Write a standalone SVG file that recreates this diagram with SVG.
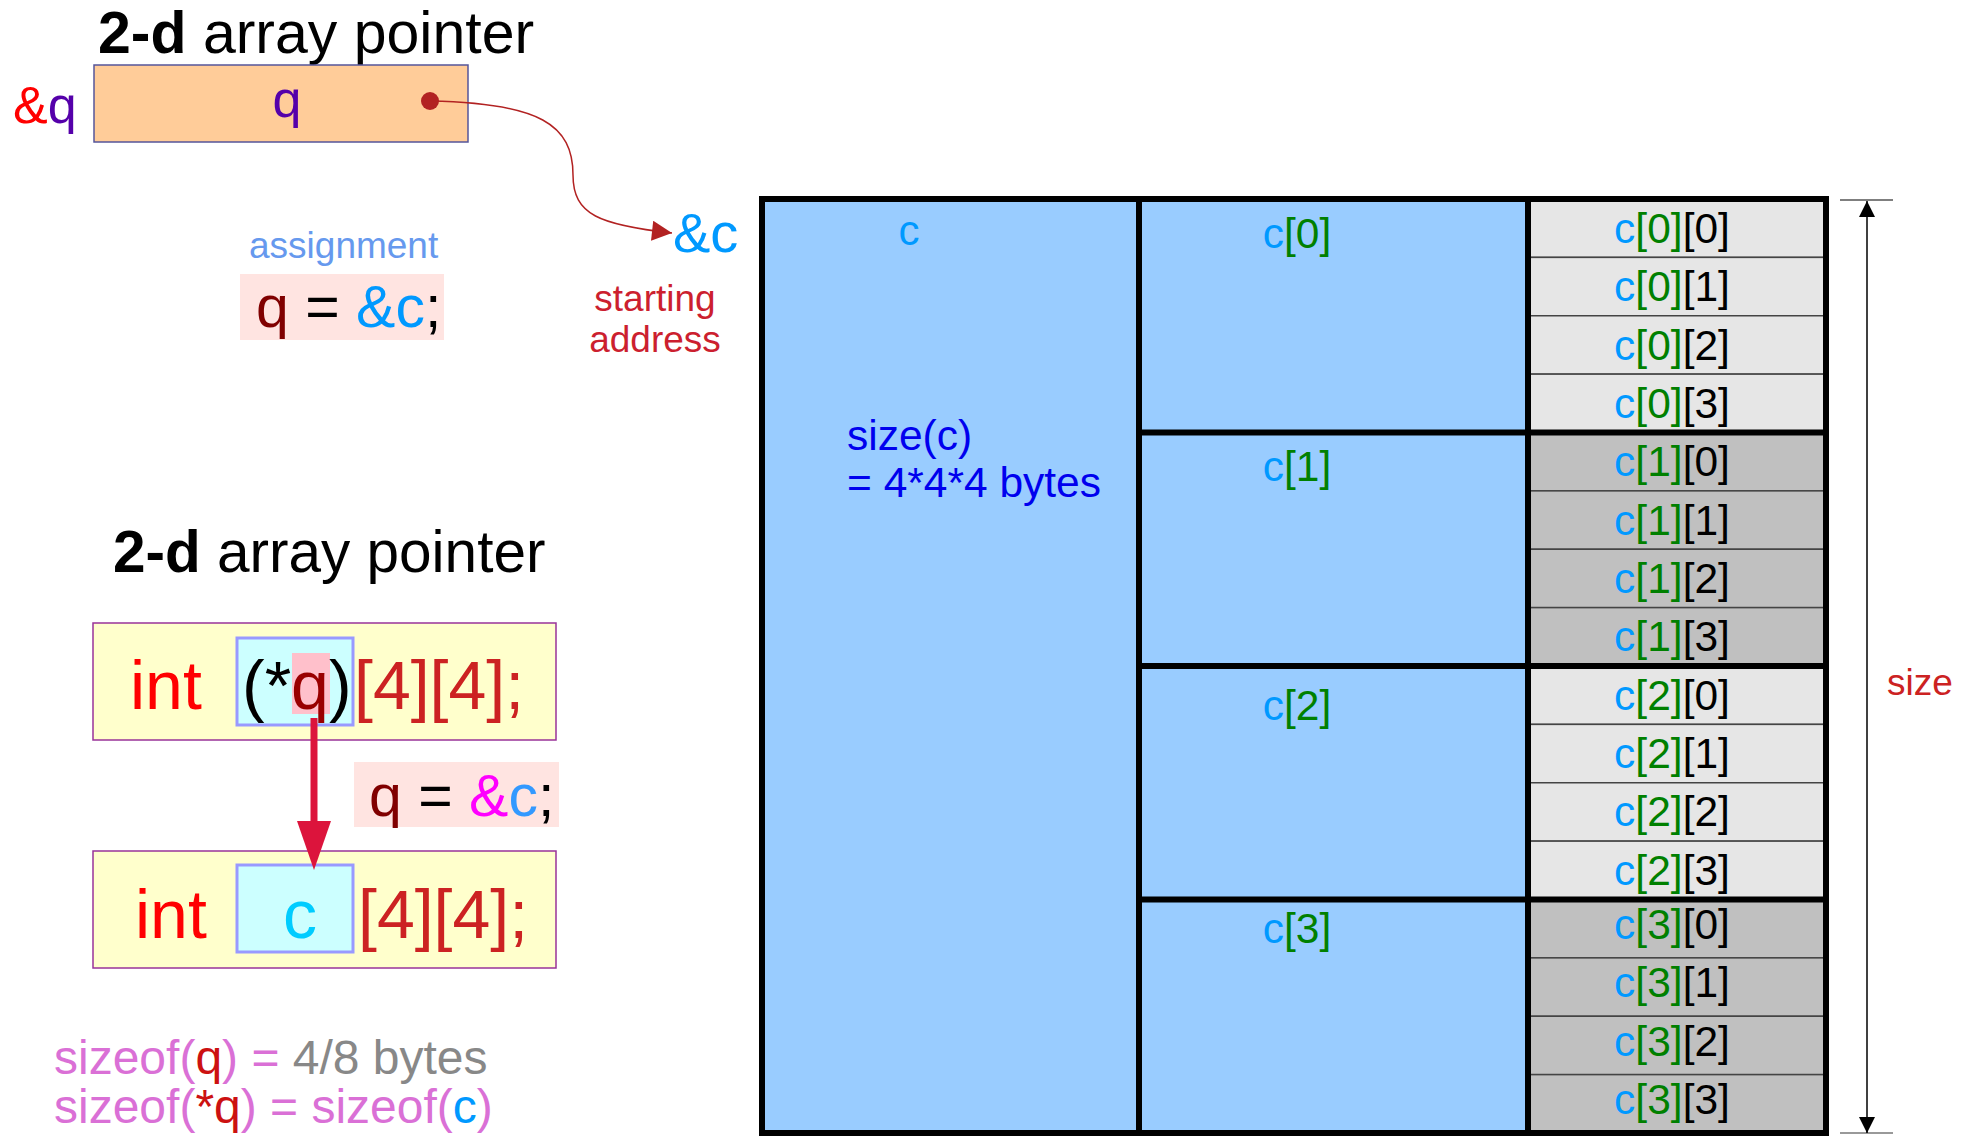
<svg xmlns="http://www.w3.org/2000/svg" width="1974" height="1137" viewBox="0 0 1974 1137">
<style>
text{font-family:"Liberation Sans",Arial,sans-serif}
.blue{fill:#0099ff}.grn{fill:#008000}.blk{fill:#000}
.cell{font-size:42.5px;text-anchor:middle}
.l1{fill:#e6e6e6;stroke:#444;stroke-width:1.5}
.l2{fill:#c0c0c0;stroke:#444;stroke-width:1.5}
.yb{fill:#ffffcc;stroke:#993399;stroke-width:1.5}
.cb{fill:#ccffff;stroke:#9999ff;stroke-width:3}
.pk{fill:#ffe4e1}
.code{font-size:68px}
</style>
<defs>
<marker id="ah" viewBox="0 0 10 10" refX="10" refY="5" markerWidth="30" markerHeight="20" markerUnits="userSpaceOnUse" orient="auto"><path d="M0,0 L10,5 L0,10 z" fill="#b22222"/></marker>
<marker id="sz" viewBox="0 0 10 10" refX="10" refY="5" markerWidth="22" markerHeight="16" markerUnits="userSpaceOnUse" orient="auto"><path d="M0,0 L10,5 L0,10 z" fill="#000"/></marker>
</defs>
<rect width="1974" height="1137" fill="#fff"/>

<g id="title1"><text x="98" y="53" font-size="59"><tspan font-weight="bold">2-d</tspan> array pointer</text></g>

<g id="qvar">
<text x="13" y="123" font-size="52"><tspan fill="#ff0000">&amp;</tspan><tspan fill="#5500aa">q</tspan></text>
<rect x="94" y="65" width="374" height="77" fill="#ffcc99" stroke="#55559a" stroke-width="1.5"/>
<text x="287" y="117" font-size="52" fill="#5500aa" text-anchor="middle">q</text>
<circle cx="430" cy="101" r="9" fill="#b22222"/>
</g>

<g id="assign1">
<text x="249" y="258" font-size="37" fill="#6699ee">assignment</text>
<rect x="240" y="274" width="204" height="66" class="pk"/>
<text x="256" y="327" font-size="59"><tspan fill="#800000">q</tspan> = <tspan fill="#0099ff">&amp;c</tspan>;</text>
</g>

<g id="addr">
<text x="673" y="252" font-size="56" fill="#0099ff">&amp;c</text>
<text x="655" y="311" font-size="37" fill="#cc1f2f" text-anchor="middle">starting</text>
<text x="655" y="352" font-size="37" fill="#cc1f2f" text-anchor="middle">address</text>
</g>

<g id="title2"><text x="113" y="572" font-size="58.5"><tspan font-weight="bold">2-d</tspan> array pointer</text></g>

<g id="decl1">
<rect x="93" y="623" width="463" height="117" class="yb"/>
<text x="130" y="709" class="code" fill="#ff0000">int</text>
<rect x="237" y="638" width="116" height="87" class="cb"/>
<rect x="292" y="653" width="38" height="61" fill="#ffc0cb"/>
<text x="242" y="709" class="code">(*<tspan fill="#990000">q</tspan>)</text>
<text x="354" y="709" class="code" fill="#cc2222">[4][4];</text>
</g>

<g id="assign2">
<rect x="354" y="762" width="205" height="65" class="pk"/>
<text x="369" y="816" font-size="59"><tspan fill="#800000">q</tspan> = <tspan fill="#ff00ff">&amp;</tspan><tspan fill="#3399ff">c</tspan>;</text>
</g>

<g id="decl2">
<rect x="93" y="851" width="463" height="117" class="yb"/>
<text x="135" y="938" class="code" fill="#ff0000">int</text>
<rect x="237" y="865" width="116" height="87" class="cb"/>
<text x="300" y="938" class="code" fill="#00ccff" text-anchor="middle">c</text>
<text x="358" y="938" class="code" fill="#cc2222">[4][4];</text>
</g>

<g id="sizeof">
<text x="54" y="1074" font-size="48" fill="#da70d6">sizeof(<tspan fill="#cc1111">q</tspan>) = <tspan fill="#888888">4/8 bytes</tspan></text>
<text x="54" y="1123" font-size="48" fill="#da70d6">sizeof(<tspan fill="#cc1111">*q</tspan>) = sizeof(<tspan fill="#0099ff">c</tspan>)</text>
</g>

<g id="array">
<rect x="762" y="199" width="1064" height="934" fill="#99ccff"/>
<g id="elements">
<rect x="1528" y="199" width="298" height="58.375" class="l1"/>
<rect x="1528" y="257.375" width="298" height="58.375" class="l1"/>
<rect x="1528" y="315.75" width="298" height="58.375" class="l1"/>
<rect x="1528" y="374.125" width="298" height="58.375" class="l1"/>
<rect x="1528" y="432.5" width="298" height="58.375" class="l2"/>
<rect x="1528" y="490.875" width="298" height="58.375" class="l2"/>
<rect x="1528" y="549.25" width="298" height="58.375" class="l2"/>
<rect x="1528" y="607.625" width="298" height="58.375" class="l2"/>
<rect x="1528" y="666" width="298" height="58.375" class="l1"/>
<rect x="1528" y="724.375" width="298" height="58.375" class="l1"/>
<rect x="1528" y="782.75" width="298" height="58.375" class="l1"/>
<rect x="1528" y="841.125" width="298" height="58.375" class="l1"/>
<rect x="1528" y="899.5" width="298" height="58.375" class="l2"/>
<rect x="1528" y="957.875" width="298" height="58.375" class="l2"/>
<rect x="1528" y="1016.25" width="298" height="58.375" class="l2"/>
<rect x="1528" y="1074.625" width="298" height="58.375" class="l2"/>
<text class="cell" x="1672" y="243"><tspan class="blue">c</tspan><tspan class="grn">[0]</tspan>[0]</text>
<text class="cell" x="1672" y="301"><tspan class="blue">c</tspan><tspan class="grn">[0]</tspan>[1]</text>
<text class="cell" x="1672" y="360"><tspan class="blue">c</tspan><tspan class="grn">[0]</tspan>[2]</text>
<text class="cell" x="1672" y="418"><tspan class="blue">c</tspan><tspan class="grn">[0]</tspan>[3]</text>
<text class="cell" x="1672" y="476"><tspan class="blue">c</tspan><tspan class="grn">[1]</tspan>[0]</text>
<text class="cell" x="1672" y="535"><tspan class="blue">c</tspan><tspan class="grn">[1]</tspan>[1]</text>
<text class="cell" x="1672" y="593"><tspan class="blue">c</tspan><tspan class="grn">[1]</tspan>[2]</text>
<text class="cell" x="1672" y="651"><tspan class="blue">c</tspan><tspan class="grn">[1]</tspan>[3]</text>
<text class="cell" x="1672" y="710"><tspan class="blue">c</tspan><tspan class="grn">[2]</tspan>[0]</text>
<text class="cell" x="1672" y="768"><tspan class="blue">c</tspan><tspan class="grn">[2]</tspan>[1]</text>
<text class="cell" x="1672" y="826"><tspan class="blue">c</tspan><tspan class="grn">[2]</tspan>[2]</text>
<text class="cell" x="1672" y="885"><tspan class="blue">c</tspan><tspan class="grn">[2]</tspan>[3]</text>
<text class="cell" x="1672" y="939"><tspan class="blue">c</tspan><tspan class="grn">[3]</tspan>[0]</text>
<text class="cell" x="1672" y="997"><tspan class="blue">c</tspan><tspan class="grn">[3]</tspan>[1]</text>
<text class="cell" x="1672" y="1056"><tspan class="blue">c</tspan><tspan class="grn">[3]</tspan>[2]</text>
<text class="cell" x="1672" y="1114"><tspan class="blue">c</tspan><tspan class="grn">[3]</tspan>[3]</text>
</g>
<g stroke="#000" stroke-width="6" fill="none">
<line x1="1139" y1="199" x2="1139" y2="1133"/>
<line x1="1528" y1="199" x2="1528" y2="1133"/>
<line x1="1139" y1="432.5" x2="1826" y2="432.5"/>
<line x1="1139" y1="666" x2="1826" y2="666"/>
<line x1="1139" y1="899.5" x2="1826" y2="899.5"/>
<rect x="762" y="199" width="1064" height="934"/>
</g>
<text x="909" y="245" font-size="42" fill="#0099ff" text-anchor="middle">c</text>
<text x="847" y="450" font-size="42.5" fill="#0000ee">size(c)</text>
<text x="847" y="497" font-size="42.5" fill="#0000ee">= 4*4*4 bytes</text>
<g class="cell">
<text x="1297" y="248"><tspan class="blue">c</tspan><tspan class="grn">[0]</tspan></text>
<text x="1297" y="481"><tspan class="blue">c</tspan><tspan class="grn">[1]</tspan></text>
<text x="1297" y="720"><tspan class="blue">c</tspan><tspan class="grn">[2]</tspan></text>
<text x="1297" y="943"><tspan class="blue">c</tspan><tspan class="grn">[3]</tspan></text>
</g>
</g>

<g id="sizedim">
<line x1="1840" y1="200" x2="1893" y2="200" stroke="#555" stroke-width="1.5"/>
<line x1="1840" y1="1133" x2="1893" y2="1133" stroke="#777" stroke-width="1.5"/>
<text x="1887" y="695" font-size="37" fill="#cc2222">size</text>
</g>

<g id="connectors">
<path d="M430 101 C 540 103, 573 125, 573 175 C 573 215, 600 225, 672 233" fill="none" stroke="#b22222" stroke-width="1.5" marker-end="url(#ah)"/>
<line x1="314" y1="718" x2="314" y2="830" stroke="#dc143c" stroke-width="7"/>
<polygon points="297,821 331,821 314,870" fill="#dc143c"/>
<line x1="1867" y1="666" x2="1867" y2="201" stroke="#000" stroke-width="1.5" marker-end="url(#sz)"/>
<line x1="1867" y1="666" x2="1867" y2="1133" stroke="#000" stroke-width="1.5" marker-end="url(#sz)"/>
</g>
</svg>
